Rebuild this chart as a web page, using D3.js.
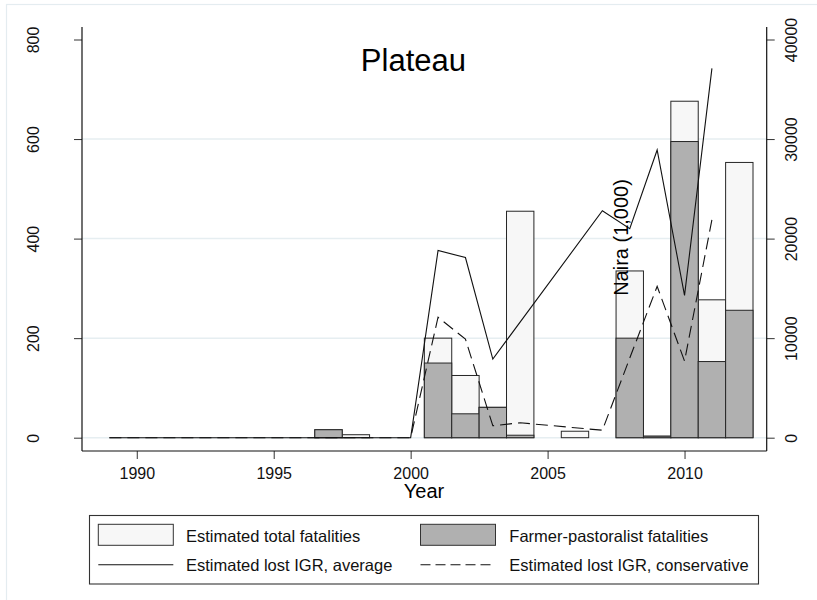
<!DOCTYPE html>
<html>
<head>
<meta charset="utf-8">
<script src="https://cdn.jsdelivr.net/npm/d3@7/dist/d3.min.js"></script>
<style>
  html, body { margin: 0; padding: 0; background: #fff; }
  svg { display: block; font-family: "Liberation Sans", Arial, Helvetica, sans-serif; }
</style>
</head>
<body>
<svg id="chart" width="817" height="600"></svg>
<script>
// Years for the fatality bars
const barYears      = [1997, 1998, 2001, 2002, 2003, 2004, 2006, 2008, 2009, 2010, 2011, 2012];
// Estimated total fatalities per year
const totalDeaths   = [16,   6,    200,  125,  61,   455,  13,   335,  3,    676,  277,  553];
// Farmer-pastoralist fatalities per year
const farmerDeaths  = [16,   0,    150,  48,   61,   5,    0,    200,  3,    595,  153,  256];

// Years for the lost internally generated revenue lines (Naira, thousands)
const igrYears      = [1989, 1990, 1991, 1992, 1993, 1994, 1995, 1996, 1997, 1998, 1999, 2000,
                       2001, 2002, 2003, 2004, 2005, 2006, 2007, 2008, 2009, 2010, 2011];
const igrAverage    = [0, 0, 0, 0, 0, 0, 0, 0, 0, 0, 0, 0,
                       18800, 18100, 7900, null, null, null, 22800, 21000, 28900, 14300, 37100];
const igrConservative = [0, 0, 0, 0, 0, 0, 0, 0, 0, 0, 0, 0,
                       12100, 9900, 1200, 1500, null, null, 750, 8000, 15200, 7700, 21900];

const xTicks      = [1990, 1995, 2000, 2005, 2010];
const leftTicks   = [0, 200, 400, 600, 800];
const rightTicks  = [0, 10000, 20000, 30000, 40000];
const gridTicks   = [0, 200, 400, 600];

const svg = d3.select("#chart");

// Plot region
const plotLeft = 82, plotRight = 766.7, plotTop = 27, plotBottom = 451;
const dashPattern = "12,6";

const x  = d3.scaleLinear().domain([1988, 2013]).range([plotLeft, plotRight]);
const yL = d3.scaleLinear().domain([0, 800]).range([437.7, 39.5]);
const yR = d3.scaleLinear().domain([0, 40000]).range([437.7, 39.5]);

// Outer figure border
svg.append("rect")
  .attr("x", 6.5).attr("y", 4.5).attr("width", 830).attr("height", 620)
  .attr("fill", "none").attr("stroke", "#e4ecf0").attr("stroke-width", 1.2);

// Gridlines
svg.append("g").selectAll("line").data(gridTicks).join("line")
  .attr("x1", plotLeft).attr("x2", plotRight)
  .attr("y1", d => yL(d)).attr("y2", d => yL(d))
  .attr("stroke", "#e6eef1").attr("stroke-width", 1.5);

// Bars: totals behind, farmer-pastoralist share in front
const bars = barYears.map((yr, i) => ({ yr, total: totalDeaths[i], farmer: farmerDeaths[i] }));

svg.append("g").selectAll("rect").data(bars.filter(d => d.total > 0)).join("rect")
  .attr("x", d => x(d.yr - 0.5))
  .attr("width", d => x(d.yr + 0.5) - x(d.yr - 0.5))
  .attr("y", d => yL(d.total))
  .attr("height", d => yL(0) - yL(d.total))
  .attr("fill", "#f7f7f7").attr("stroke", "#262626").attr("stroke-width", 1);

svg.append("g").selectAll("rect").data(bars.filter(d => d.farmer > 0)).join("rect")
  .attr("x", d => x(d.yr - 0.5))
  .attr("width", d => x(d.yr + 0.5) - x(d.yr - 0.5))
  .attr("y", d => yL(d.farmer))
  .attr("height", d => yL(0) - yL(d.farmer))
  .attr("fill", "#b0b0b0").attr("stroke", "#262626").attr("stroke-width", 1);

// Revenue lines (gaps are bridged, as in the source series)
const lineGen = d3.line().x(d => x(d.yr)).y(d => yR(d.v));
const avgPts  = igrYears.map((yr, i) => ({ yr, v: igrAverage[i] })).filter(d => d.v !== null);
const consPts = igrYears.map((yr, i) => ({ yr, v: igrConservative[i] })).filter(d => d.v !== null);

svg.append("path").datum(consPts).attr("d", lineGen)
  .attr("fill", "none").attr("stroke", "#111").attr("stroke-width", 1.1)
  .attr("stroke-dasharray", dashPattern);
svg.append("path").datum(avgPts).attr("d", lineGen)
  .attr("fill", "none").attr("stroke", "#111").attr("stroke-width", 1.1);

// Axes
const tickFont = "16px";

const gL = svg.append("g").attr("transform", `translate(${plotLeft},0)`)
  .call(d3.axisLeft(yL).tickValues(leftTicks).tickSize(8).tickFormat(d3.format("d")));
gL.select(".domain").remove();
gL.selectAll(".tick line").attr("stroke", "#333");
gL.selectAll(".tick text")
  .attr("x", null).attr("dy", null).attr("y", null)
  .attr("text-anchor", "middle")
  .attr("transform", `translate(${38.5 - plotLeft},0) rotate(-90)`)
  .style("font-size", tickFont).attr("fill", "#111");

const gR = svg.append("g").attr("transform", `translate(${plotRight},0)`)
  .call(d3.axisRight(yR).tickValues(rightTicks).tickSize(8).tickFormat(d3.format("d")));
gR.select(".domain").remove();
gR.selectAll(".tick line").attr("stroke", "#333");
gR.selectAll(".tick text")
  .attr("x", null).attr("dy", null).attr("y", null)
  .attr("text-anchor", "middle")
  .attr("transform", `translate(${796.7 - plotRight},0) rotate(-90)`)
  .style("font-size", tickFont).attr("fill", "#111");

const gX = svg.append("g").attr("transform", `translate(0,${plotBottom})`)
  .call(d3.axisBottom(x).tickValues(xTicks).tickSize(8).tickFormat(d3.format("d")));
gX.select(".domain").remove();
gX.selectAll(".tick line").attr("stroke", "#333");
gX.selectAll(".tick text")
  .attr("y", 28).attr("dy", null)
  .style("font-size", tickFont).attr("fill", "#111");

// Axis lines
const axisLines = [
  [plotLeft, plotTop, plotLeft, plotBottom],
  [plotRight, plotTop, plotRight, plotBottom],
  [plotLeft, plotBottom, plotRight, plotBottom]
];
svg.append("g").selectAll("line").data(axisLines).join("line")
  .attr("x1", d => d[0]).attr("y1", d => d[1]).attr("x2", d => d[2]).attr("y2", d => d[3])
  .attr("stroke", "#111").attr("stroke-width", 1.2);

// Titles
svg.append("text").attr("x", 413.4).attr("y", 70.7).attr("text-anchor", "middle")
  .style("font-size", "31px").attr("fill", "#000").text("Plateau");

svg.append("text").attr("x", 424).attr("y", 498).attr("text-anchor", "middle")
  .style("font-size", "20px").attr("fill", "#000").text("Year");

svg.append("text").attr("text-anchor", "middle")
  .attr("transform", "translate(628.3,237.5) rotate(-90)")
  .style("font-size", "20px").attr("fill", "#000").text("Naira (1,000)");

// Legend
const lg = svg.append("g");
lg.append("rect").attr("x", 89.5).attr("y", 515.5).attr("width", 669).attr("height", 68.5)
  .attr("fill", "#fff").attr("stroke", "#333").attr("stroke-width", 1.1);

const legendItems = [
  { kind: "box",  fill: "#f7f7f7", kx: 98.3,  tx: 186,   label: "Estimated total fatalities" },
  { kind: "box",  fill: "#b0b0b0", kx: 420.5, tx: 509.3, label: "Farmer-pastoralist fatalities" },
  { kind: "line", dash: null,      kx: 98.3,  tx: 186,   label: "Estimated lost IGR, average" },
  { kind: "line", dash: "10,5",    kx: 420.5, tx: 509.3, label: "Estimated lost IGR, conservative" }
];
legendItems.forEach((it, i) => {
  const row = Math.floor(i / 2);
  if (it.kind === "box") {
    lg.append("rect").attr("x", it.kx).attr("y", 524.3).attr("width", 75).attr("height", 21)
      .attr("fill", it.fill).attr("stroke", "#333").attr("stroke-width", 1);
  } else {
    lg.append("line").attr("x1", it.kx).attr("x2", it.kx + 75).attr("y1", 564.7).attr("y2", 564.7)
      .attr("stroke", "#111").attr("stroke-width", 1.1)
      .attr("stroke-dasharray", it.dash);
  }
  lg.append("text").attr("x", it.tx).attr("y", row === 0 ? 541.7 : 570.7)
    .style("font-size", "16.5px").attr("fill", "#111").text(it.label);
});
</script>
</body>
</html>
